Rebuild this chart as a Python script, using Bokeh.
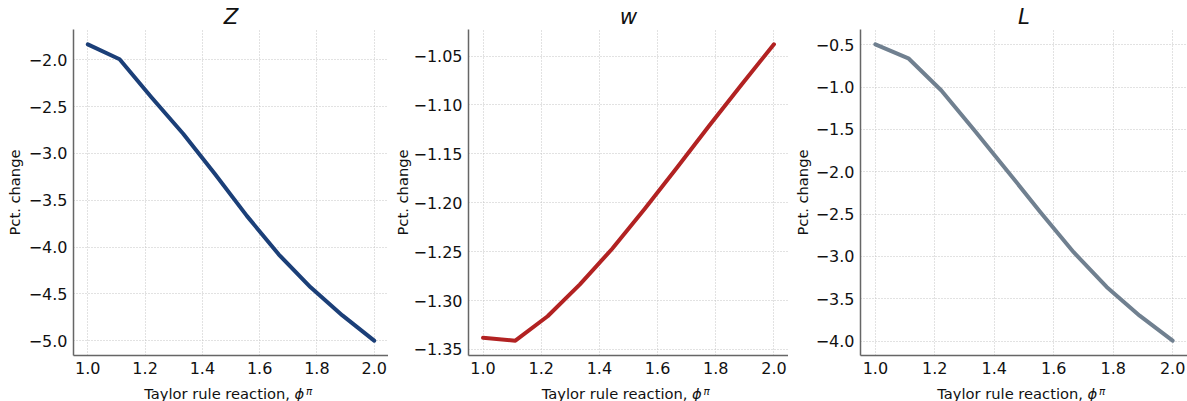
from bokeh.plotting import figure
from bokeh.layouts import row, column
from bokeh.models import Range1d, FixedTicker, CustomJSTickFormatter, Label
from bokeh.embed import file_html
from bokeh.resources import INLINE

# ---- data ----
phi_pi = [1.0, 1.111, 1.222, 1.333, 1.444, 1.556, 1.667, 1.778, 1.889, 2.0]
z_vals = [-1.835, -1.995, -2.40, -2.79, -3.22, -3.67, -4.08, -4.43, -4.73, -5.0]
w_vals = [-1.338, -1.341, -1.316, -1.2835, -1.247, -1.206, -1.164, -1.121, -1.079, -1.038]
l_vals = [-0.495, -0.66, -1.04, -1.51, -1.99, -2.48, -2.95, -3.36, -3.70, -3.995]

titles = ["Z", "w", "L"]
colors = ["#1b3f78", "#b22222", "#708090"]
x_ticks = [1.0, 1.2, 1.4, 1.6, 1.8, 2.0]
y_ticks = [
    [-2.0, -2.5, -3.0, -3.5, -4.0, -4.5, -5.0],
    [-1.05, -1.10, -1.15, -1.20, -1.25, -1.30, -1.35],
    [-0.5, -1.0, -1.5, -2.0, -2.5, -3.0, -3.5, -4.0],
]
decimals = [1, 2, 1]
series = [z_vals, w_vals, l_vals]
xlabel_text = "Taylor rule reaction,"
xlabel_sym = "\u03d5"
xlabel_sup = "\u03c0"
ylabel = "Pct. change"

FONT = "DejaVu Sans"
H_MAIN = 381
H_STRIP = 20
TOP = 29
BOTTOM = 26
widths = [388, 400, 399]
borders_left = [73, 80, 72]
ylabel_standoffs = [3, -1, 2]


def pad(lo, hi, frac=0.05):
    d = (hi - lo) * frac
    return lo - d, hi + d


figs = []
strips = []
for i in range(3):
    ys = series[i]
    x0, x1 = pad(min(phi_pi), max(phi_pi))
    y0, y1 = pad(min(ys), max(ys))
    fw = widths[i] - borders_left[i]
    p = figure(
        width=widths[i], height=H_MAIN,
        x_range=Range1d(x0, x1), y_range=Range1d(y0, y1),
        output_backend="svg", toolbar_location=None,
        min_border_left=borders_left[i], min_border_right=0,
        min_border_top=TOP, min_border_bottom=BOTTOM,
    )
    p.outline_line_color = None
    p.background_fill_color = "white"
    p.border_fill_color = "white"

    # title
    p.title.text = titles[i]
    p.title.align = "center"
    p.title.text_font = FONT
    p.title.text_font_size = "21.3px"
    p.title.text_font_style = "italic"
    p.title.text_color = "#111111"
    p.title.standoff = 2
    p.title.offset = 0

    p.line(phi_pi, ys, line_color=colors[i], line_width=4,
           line_join="round", line_cap="round")

    # axes
    for ax in (p.xaxis[0], p.yaxis[0]):
        ax.axis_line_color = "#666666"
        ax.axis_line_width = 1.5
        ax.major_tick_line_color = None
        ax.minor_tick_line_color = None
        ax.major_tick_out = 0
        ax.major_tick_in = 0
        ax.minor_tick_out = 0
        ax.minor_tick_in = 0
        ax.major_label_text_font = FONT
        ax.major_label_text_font_size = "16px"
        ax.major_label_text_color = "#111111"

    p.xaxis.ticker = FixedTicker(ticks=x_ticks)
    p.xaxis.formatter = CustomJSTickFormatter(code="return tick.toFixed(1);")
    p.xaxis.major_label_standoff = 6

    p.yaxis.ticker = FixedTicker(ticks=y_ticks[i])
    p.yaxis.formatter = CustomJSTickFormatter(
        code="return (tick < 0 ? '\u2212' : '') + Math.abs(tick).toFixed(%d);" % decimals[i])
    p.yaxis.major_label_standoff = 6
    p.yaxis.axis_label = ylabel
    p.yaxis.axis_label_text_font = FONT
    p.yaxis.axis_label_text_font_size = "14.7px"
    p.yaxis.axis_label_text_font_style = "normal"
    p.yaxis.axis_label_text_color = "#111111"
    p.yaxis.axis_label_standoff = ylabel_standoffs[i]

    # grid
    for g in (p.xgrid[0], p.ygrid[0]):
        g.grid_line_color = "#c4c4c4"
        g.grid_line_dash = "1 2"
        g.grid_line_width = 1
    p.xgrid.ticker = FixedTicker(ticks=x_ticks)
    p.ygrid.ticker = FixedTicker(ticks=y_ticks[i])
    figs.append(p)

    # strip below each panel carrying the x-axis label
    s = figure(
        width=widths[i], height=H_STRIP,
        x_range=Range1d(0, widths[i]), y_range=Range1d(0, H_STRIP),
        output_backend="svg", toolbar_location=None,
        x_axis_location=None, y_axis_location=None,
        min_border_left=0, min_border_right=0,
        min_border_top=0, min_border_bottom=0,
    )
    s.outline_line_color = None
    s.xgrid.visible = False
    s.ygrid.visible = False
    s.background_fill_color = "white"
    s.border_fill_color = "white"
    c = borders_left[i] + fw / 2
    s.add_layout(Label(x=c + 59, y=8, text=xlabel_text, text_align="right",
                       text_baseline="alphabetic", text_font=FONT,
                       text_font_size="14.7px", text_color="#111111"))
    s.add_layout(Label(x=c + 63.5, y=8, text=xlabel_sym, text_align="left",
                       text_baseline="alphabetic", text_font=FONT,
                       text_font_size="14.7px", text_font_style="italic",
                       text_color="#111111"))
    s.add_layout(Label(x=c + 75, y=10.5, text=xlabel_sup, text_align="left",
                       text_baseline="alphabetic", text_font=FONT,
                       text_font_size="10.3px", text_font_style="italic",
                       text_color="#111111"))
    strips.append(s)

layout = column(row(*figs), row(*strips))
open("out.html", "w").write(file_html(layout, INLINE))
